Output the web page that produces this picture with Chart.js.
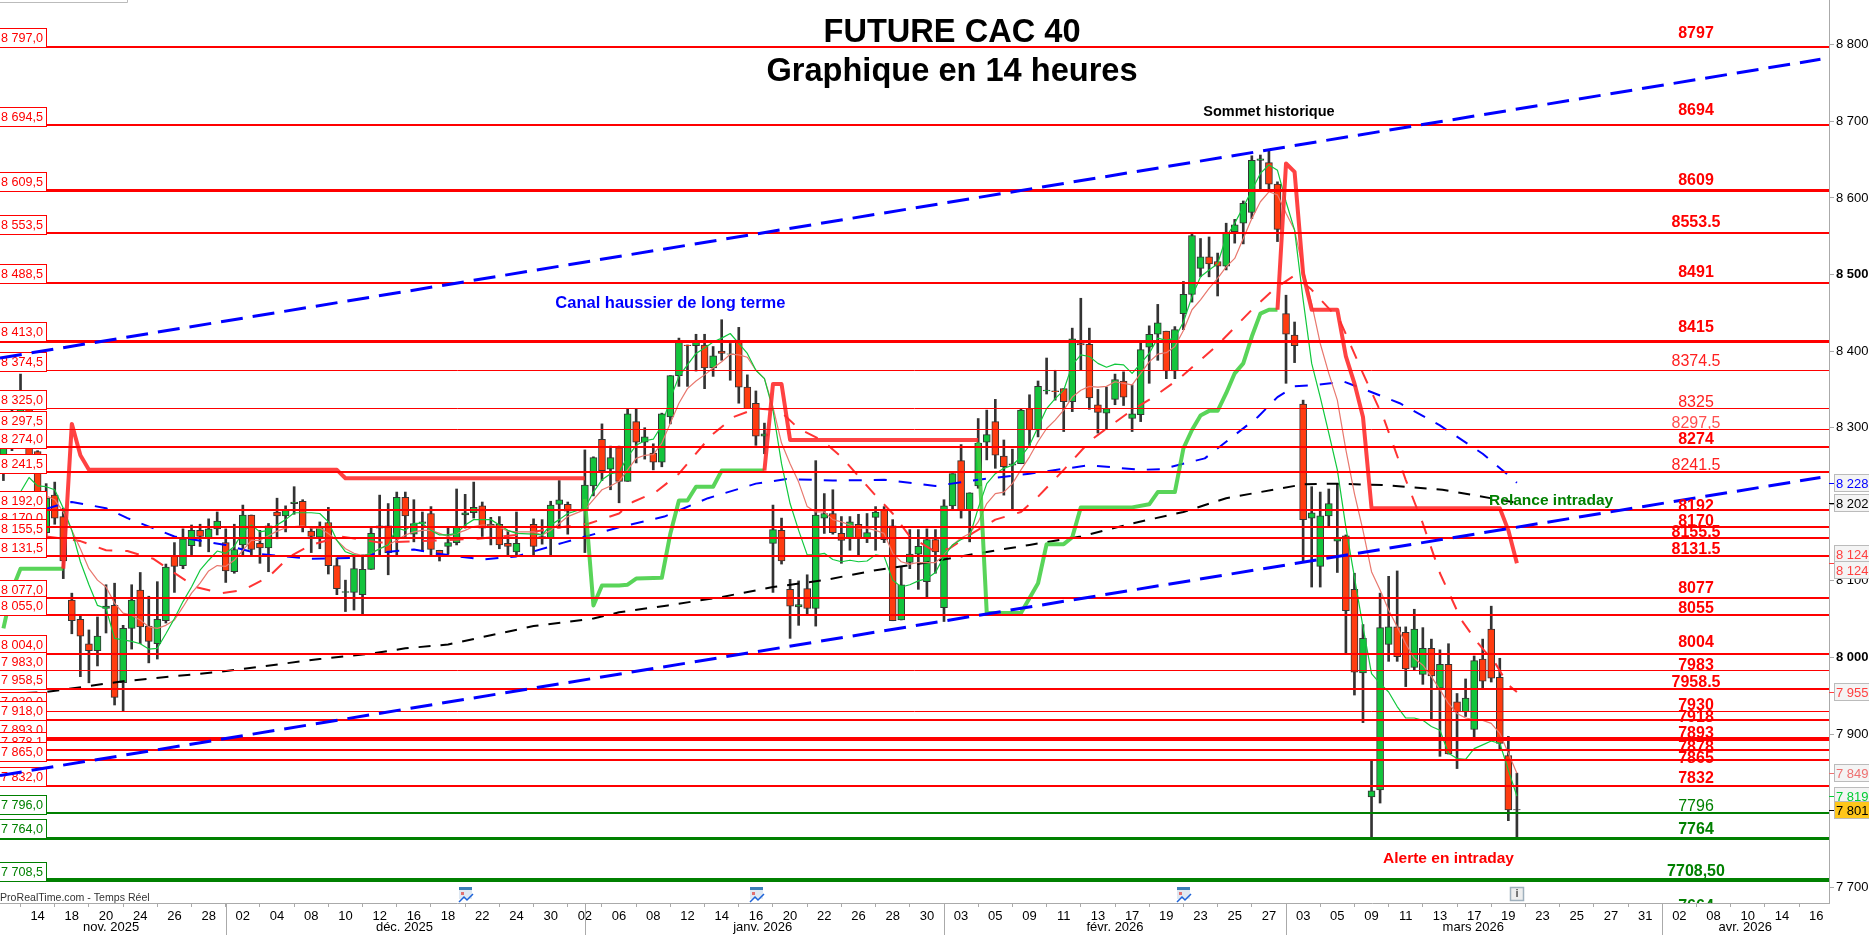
<!DOCTYPE html>
<html>
<head>
<meta charset="utf-8">
<title>FUTURE CAC 40</title>
<script src="https://cdn.jsdelivr.net/npm/chart.js@4"></script>
<style>
  html, body { margin: 0; padding: 0; background: #fff; overflow: hidden; }
  canvas { display: block; }
</style>
</head>
<body>
<canvas id="chart" width="1869" height="935"></canvas>
<script>
// Candles, one per 14h bar (null = no bar)
const opens = [8245,8300,8290,8327,8269,8163,8212,8184,8075,8050,8018,8009,8064,8068,7967,8038,8088,8041,8018,8048,
  8132,8120,8146,8166,8156,8168,8150,8112,8147,8186,8149,8143,8190,8185,8201,8204,8165,8157,8176,8120,
  8085,8085,8082,8115,8169,8172,8155,8209,8161,8175,8188,8140,8145,8150,8186,8189,8198,8171,8174,8149,
  8138,null,8174,8156,8156,8200,8200,null,8193,8224,8285,8246,8274,8230,8308,8281,8267,8255,8314,8368,
  8408,8407,8408,8378,8400,8396,8414,8353,8332,8289,8149,8166,8089,8066,8090,8064,8182,8188,8162,8155,
  8174,8156,8183,8192,8172,8049,8124,8135,8099,8154,8065,8198,8257,8192,8224,8281,8308,8263,8251,8253,
  8325,8297,8348,8348,8351,8334,8410,8409,8330,8319,8337,8361,8312,8317,8405,8422,8426,8374,8449,8474,
  8508,8523,8517,8511,8556,8567,8581,8649,8646,8618,8449,8421,8331,8182,8119,8185,8152,8159,8089,7980,
  7818,7827,8017,8040,8033,7987,7978,8012,7960,7991,7942,7929,7906,7998,8037,7974,7872,7801];
const highs = [8310,8325,8370,8327,8270,8227,8229,8195,8084,8056,8036,8053,8095,8097,8042,8095,8111,8080,8099,8122,
  8150,8168,8173,8174,8181,8190,8168,8174,8199,8186,8166,8175,8208,8198,8223,8206,8169,8177,8196,8130,
  8101,8134,8134,8169,8212,8201,8216,8216,8206,8190,8197,8140,8169,8220,8213,8229,8203,8183,8184,8166,
  8190,null,8181,8180,8204,8231,8203,null,8271,8262,8305,8276,8276,8325,8324,8300,8279,8319,8368,8417,
  8408,8422,8422,8406,8441,8410,8431,8369,8348,8306,8199,8182,8102,8100,8108,8257,8214,8219,8184,8184,
  8187,8188,8197,8197,8180,8119,8167,8167,8168,8167,8206,8240,8278,8215,8312,8323,8337,8284,8272,8324,
  8343,8361,8391,8375,8351,8430,8469,8430,8350,8353,8370,8373,8356,8411,8433,8461,8426,8432,8491,8553,
  8547,8549,8528,8567,8572,8596,8655,8656,8662,8621,8473,8438,8336,8223,8216,8220,8227,8160,8110,8043,
  7867,8084,8106,8113,8040,8063,8039,8024,8010,8018,7953,7972,8002,8024,8067,7999,7897,7849];
const lows = [8231,8270,8275,8245,8190,8155,8174,8103,8031,7975,7967,7989,8032,7938,7930,8011,8018,7993,7998,8045,
  8085,8116,8134,8145,8138,8160,8098,8110,8132,8134,8123,8112,8155,8164,8187,8164,8137,8142,8109,8082,
  8060,8062,8055,8115,8134,8108,8134,8158,8151,8139,8133,8126,8135,8147,8169,8182,8158,8147,8142,8132,
  8132,null,8132,8148,8133,8169,8161,null,8137,8211,8231,8219,8202,8230,8254,8259,8245,8249,8305,8354,
  8354,8374,8351,8367,8388,8362,8332,8325,8277,8266,8085,8122,8025,8042,8055,8041,8162,8161,8123,8140,
  8132,8150,8140,8150,8048,8049,8116,8089,8077,8110,8047,8192,8182,8151,8221,8258,8247,8212,8192,8253,
  8277,8288,8344,8336,8295,8321,8375,8324,8293,8298,8330,8329,8295,8308,8358,8388,8364,8364,8428,8464,
  8497,8497,8472,8506,8541,8540,8573,8610,8610,8543,8358,8385,8125,8092,8092,8171,8111,8005,7951,7915,
  7764,7810,7995,7995,7962,7984,7965,7918,7871,7874,7855,7923,7896,7959,7968,7879,7787,7764];
const closes = [8290,8285,8327,8262,8200,8208,8182,8126,8048,8028,8009,8028,8067,7948,8038,8075,8040,8021,8050,8118,
  8119,8155,8166,8158,8168,8178,8113,8141,8186,8141,8143,8172,8185,8193,8203,8170,8158,8171,8120,8090,
  8086,8116,8115,8162,8172,8137,8209,8185,8175,8177,8141,8134,8150,8171,8189,8196,8169,8174,8147,8145,
  8149,null,8145,8158,8199,8206,8191,null,8225,8261,8244,8261,8230,8318,8281,8288,8255,8318,8368,8412,
  8407,8412,8378,8394,8397,8396.5,8353,8325,8289,8292,8167,8126,8067,8069,8064,8186,8188,8163,8153,8177,
  8156,8163,8190,8154,8048,8095,8135,8145,8154,8138,8198,8240,8192,8215,8280,8291,8264,8249,8253,8323,
  8297,8354,8349,8347,8334,8416,8408,8339,8320,8325,8363,8340,8318,8402,8422,8437,8374,8428,8474,8551,
  8523,8514,8511,8554,8565,8593,8649,8651,8618,8559,8422,8407,8180,8189,8185,8201,8156,8061,7981,8025,
  7826,8039,8040,8001,7985,8037,8012,7976,7991,7874,7929,7947,7996,7969,7973,7888,7801,7801.5];

// Indicator lines, as [bar, price]
const maFast = [[2,8216],[3,8235],[4,8224],[5,8223],[6,8219],[7,8195],[8,8166],[9,8125],[10,8095],[11,8068],[12,8064],[13,8025],[14,8023],[15,8021],[16,8018],[17,8011],[18,8012],[19,8031],[20,8051],
  [21,8073],[22,8092],[23,8114],[24,8127],[25,8139],[26,8136],[27,8145],[28,8164],[29,8173],[30,8164],[31,8166],[32,8173],[33,8180],[34,8189],[35,8189],[36,8189],[37,8188],[38,8177],[39,8153],[40,8138],
  [41,8134],[42,8132],[43,8136],[44,8142],[45,8147],[46,8169],[47,8166],[48,8175],[49,8175],[50,8166],[51,8160],[52,8160],[53,8162],[54,8173],[55,8180],[56,8180],[57,8180],[58,8173],[59,8166],[60,8162],
  [62,8161],[63,8160],[64,8173],[65,8180],[66,8188],[68,8195],[69,8216],[70,8232],[71,8240],[72,8242],[73,8262],[74,8277],[75,8283],[76,8285],[77,8303],[78,8338],[79,8367],[80,8382],
  [81,8397],[82,8404],[83,8412],[84,8417],[85,8423],[86,8410],[87,8397],[88,8375],[89,8364],[90,8323],[91,8253],[92,8201],[93,8166],[94,8134],[95,8134],[96,8136],[97,8128],[98,8125],[99,8127],[100,8125],
  [101,8126],[102,8134],[103,8132],[104,8101],[105,8092],[106,8095],[107,8100],[108,8103],[109,8111],[110,8132],[111,8147],[112,8154],[113,8158],[114,8195],[115,8227],[116,8240],[117,8247],[118,8251],[119,8262],[120,8277],
  [121,8301],[122,8325],[123,8338],[124,8349],[125,8382],[126,8395],[127,8393],[128,8384],[129,8379],[130,8383],[131,8382],[132,8371],[133,8384],[134,8397],[135,8417],[136,8414],[137,8417],[138,8438],[139,8471],[140,8497],
  [141,8506],[142,8514],[143,8549],[144,8567],[145,8588],[146,8610],[147,8632],[148,8643],[149,8636],[150,8595],[151,8558],[152,8467],[153,8384],[154,8340],[155,8293],[156,8245],[157,8170],[158,8105],[159,8040],[160,7979],
  [161,7966],[162,7955],[163,7936],[164,7921],[165,7921],[166,7918],[167,7910],[168,7905],[169,7875],[170,7868],[171,7867],[172,7881],[173,7886],[174,7891],[175,7888],[176,7853],[177,7819]];
const maSlow = [[5,8211],[6,8206],[7,8190],[8,8166],[9,8142],[10,8116],[11,8101],[12,8092],[13,8071],[14,8058],[15,8055],[16,8049],[17,8040],[18,8038],[19,8042],[20,8049],
  [21,8066],[22,8084],[23,8097],[24,8113],[25,8120],[26,8119],[27,8127],[28,8140],[29,8153],[30,8153],[31,8159],[32,8165],[33,8169],[34,8171],[35,8172],[36,8169],[37,8169],[38,8162],[39,8153],[40,8142],
  [41,8136],[42,8133],[43,8136],[44,8142],[45,8147],[46,8153],[47,8160],[48,8164],[49,8166],[50,8166],[51,8162],[52,8158],[53,8162],[54,8166],[55,8171],[56,8173],[57,8173],[58,8170],[59,8165],[60,8164],
  [62,8164],[63,8160],[64,8166],[65,8175],[66,8184],[68,8193],[69,8206],[70,8219],[71,8224],[72,8230],[73,8245],[74,8260],[75,8264],[76,8265],[77,8280],[78,8306],[79,8332],[80,8351],
  [81,8361],[82,8369],[83,8378],[84,8386],[85,8396],[86,8395],[87,8392],[88,8375],[89,8364],[90,8327],[91,8280],[92,8253],[93,8229],[94,8197],[95,8190],[96,8190],[97,8180],[98,8177],[99,8173],[100,8169],
  [101,8169],[102,8166],[103,8162],[104,8136],[105,8125],[106,8122],[107,8124],[108,8124],[109,8124],[110,8134],[111,8147],[112,8156],[113,8162],[114,8177],[115,8201],[116,8214],[117,8216],[118,8227],[119,8245],[120,8262],
  [121,8282],[122,8299],[123,8310],[124,8323],[125,8340],[126,8349],[127,8354],[128,8353],[129,8354],[130,8360],[131,8358],[132,8356],[133,8371],[134,8386],[135,8396],[136,8398],[137,8406],[138,8427],[139,8454],[140,8467],
  [141,8482],[142,8495],[143,8510],[144,8521],[145,8547],[146,8573],[147,8595],[148,8608],[149,8604],[150,8580],[151,8558],[152,8506],[153,8462],[154,8410],[155,8371],[156,8336],[157,8271],[158,8214],[159,8166],[160,8112],
  [161,8088],[162,8062],[163,8040],[164,8018],[165,7999],[166,7990],[167,7975],[168,7958],[169,7940],[170,7927],[171,7921],[172,7919],[173,7918],[174,7914],[175,7901],[176,7875],[177,7849]];
const maRedDash = [[5,8158],[9,8152],[12,8140],[14.5,8139],[17.5,8129],[19.5,8114],[22.5,8092],[25.5,8084],[28,8088],[31,8105],[33.5,8132],[36,8147],[39.5,8158],[44,8150],[55.5,8155],[60,8160],[64.5,8169],[68.5,8175],
  [72,8188],[73.6,8203],[76.3,8216],[79,8240],[82.8,8290],[85.4,8314],[88,8325],[90.7,8323],[93,8299],[95.8,8283],[98,8262],[101.8,8214],[104,8188],[106,8158],[108.7,8140],[110.6,8142],[113.3,8162],[116,8180],[119,8190],[121,8210],[124,8245],[127.2,8284],[129.5,8303],[132,8323],[134.5,8340],[137.5,8364],
  [142,8408],[146,8454],[148.5,8480],[151,8499],[153,8480],[156.3,8440],[159,8371],[161.5,8310],[164,8232],[166,8175],[166.8,8149],[168,8110],[170.5,8049],[172.5,8018],[174.5,7992],[176,7964],[177,7955]];
const maBlueDash = [[5,8194],[7,8201],[8,8203],[12,8195],[14.5,8182],[20,8158],[26,8147],[30,8135],[36,8129],[41,8130],[44,8137],[48,8141],[50.5,8136],[56,8128],[60,8132],[65.5,8150],[72,8170],[77.3,8184],[82.4,8208],[88,8227],[91.6,8233],
  [97,8231],[103,8232],[109,8224],[114.7,8233],[120,8240],[127,8251],[133,8245],[135.5,8246],[140.5,8260],[146.7,8314],[149,8340],[151,8354],[153.6,8356],[156.8,8360],[159.4,8349],[163.3,8332],[168,8303],[173,8266],[176,8238],[177,8228]];
const maBlackDash = [[0,7952],[5,7955],[14,7969],[25,7981],[37,7998],[43,8005],[47,8012],[52,8017],[57,8029],[62,8041],[69,8051],[72,8059],[77.7,8068],[84,8079],[90,8092],[96,8101],[102,8114],[108,8124],[114,8136],[120,8147],
  [126,8158],[132,8175],[138,8190],[143,8208],[152,8226],[156,8227],[161.6,8225],[168.3,8219],[177,8202]];
const stopGreen1 = [[0,8038],[1,8088],[2,8116],[7,8116]];
const stopRed1 = [[7,8116],[8,8305],[9,8264],[10,8245],[39,8245],[40,8234],[68,8234]];
const stopGreen2 = [[68,8207],[69,8068],[70,8094],[72,8094],[73,8095],[74,8103],[77,8104],[78,8162],[79,8205],[80,8205],[81,8223],[83,8223],[84,8244],[89,8244]];
const stopRed2 = [[89,8244],[90,8357],[91,8357],[92,8284],[114,8284]];
const stopGreen3 = [[114,8281],[115,8058],[119,8058],[121,8097],[122,8148],[124,8148],[125,8157],[126,8196],[132,8196],[134,8200],[135,8216],[137,8216],[138,8273],[139,8297],[140,8316],[141,8322],[142,8322],[143,8345],[144,8371],[145,8384],[146,8419],[147,8449],[148,8454],[149,8454]];
const stopRed3 = [[149,8454],[150,8645],[151,8634],[152,8501],[153,8454],[156,8454],[157,8393],[158,8358],[159,8314],[160,8195],[175,8195],[176,8166],[177,8123]];

// Trend channel
const channelTop = [[-0.4,8391],[212.5,8781]];
const channelBottom = [[-0.4,7846],[212.5,8235]];

// Horizontal levels
const levelValues = [8797,8694.5,8609.5,8553.5,8488.5,8413,8374.5,8325,8297.5,8274,8241.5,8192,8170,8155.5,8131.5,8077,8055,8004,7983,7958.5,7930,7918,7893,7878,7865,7832,7796,7764,7708.5];
const levelBoxTexts = ['8 797,0','8 694,5','8 609,5','8 553,5','8 488,5','8 413,0','8 374,5','8 325,0','8 297,5','8 274,0','8 241,5','8 192,0','8 170,0','8 155,5','8 131,5','8 077,0','8 055,0','8 004,0','7 983,0','7 958,5','7 930,0','7 918,0','7 893,0','7 878,1','7 865,0','7 832,0','7 796,0','7 764,0','7 708,5'];
const levelWidths = [2,2,3,2,2,3,1,1,1,2,2,2,2,2,2,2,2,2,1,2,1,2,4,2,2,2,2,3,4];

// Level captions on the right, [text, price, weight, colour]
const levelCaptions = [
  ['8797',8816.6,'bold','#ff0000'],['8694',8716,'bold','#ff0000'],['8609',8624.7,'bold','#ff0000'],['8553.5',8569.8,'bold','#ff0000'],
  ['8491',8504.6,'bold','#ff0000'],['8415',8432.8,'bold','#ff0000'],['8374.5',8388.4,'normal','#ff2020'],['8325',8334.9,'normal','#ff2020'],
  ['8297,5',8307.5,'normal','#ff5050'],['8274',8286.6,'bold','#ff0000'],['8241.5',8252.7,'normal','#ff2020'],['8192',8199.8,'bold','#ff0000'],
  ['8170',8179.6,'bold','#ff0000'],['8155.5',8165.2,'bold','#ff0000'],['8131.5',8143,'bold','#ff0000'],['8077',8092,'bold','#ff0000'],
  ['8055',8066,'bold','#ff0000'],['8004',8021.6,'bold','#ff0000'],['7983',7991.6,'bold','#ff0000'],['7958.5',7969.4,'bold','#ff0000'],
  ['7930',7939.4,'bold','#ff0000'],['7918',7923.7,'bold','#ff0000'],['7893',7902.8,'bold','#ff0000'],['7878',7884.5,'bold','#ff0000'],
  ['7865',7870,'bold','#ff0000'],['7832',7844,'bold','#ff0000'],['7796',7807.5,'normal','#008000'],['7764',7777.5,'bold','#008000'],
  ['7708,50',7722.6,'bold','#008000'],['7664',7676.9,'bold','#008000']
];
// Free text on the chart, [text, bar, price, size, colour]
const notes = [
  ['Sommet historique',148,8712,14.5,'#000000'],
  ['Canal haussier de long terme',78,8462,16.5,'#0000ff'],
  ['Relance intraday',181,8205,15.5,'#008000'],
  ['Alerte en intraday',169,7737,15.5,'#ff0000']
];

// Price tags right of the axis, [text, price of the tag, price of the tick, colour, background]
const priceTags = [
  ['8 228',8228,8228,'#0000ff','#f4f4f4'],['8 202',8202,8202,'#000000','#f4f4f4'],
  ['8 124',8134.5,8124,'#ff4040','#f4f4f4'],['8 124',8114,8124,'#ff4040','#f4f4f4'],
  ['7 955',7955,7955,'#ff4040','#f4f4f4'],['7 849',7849,7849,'#ee7070','#f4f4f4'],
  ['7 819',7819,7819,'#00cc33','#f4f4f4'],['7 801',7801,7801,'#000000','#ffc61a']
];

const yTicks = [7700,7800,7900,8000,8100,8200,8300,8400,8500,8600,8700,8800];
const xTickBars = [];
for (let b = 4; b <= 212; b += 4) xTickBars.push(b);
const xTickLabels = ['14','18','20','24','26','28','02','04','08','10','12','16','18','22','24','30','02','06','08','12','14','16','20','22','26','28','30',
  '03','05','09','11','13','17','19','23','25','27','03','05','09','11','13','17','19','23','25','27','31','02','08','10','14','16'];
const monthLabels = ['nov. 2025','déc. 2025','janv. 2026','févr. 2026','mars 2026','avr. 2026'];
const monthCenters = [12.6,46.9,88.8,130,171.9,203.7];
const monthSeparators = [26,68,110,150,194];

const FONT = '"Liberation Sans", Arial, sans-serif';
const UP = '#12c43c';
const DOWN = '#ff3c10';
const pts = arr => arr.map(p => ({ x: p[0], y: p[1] }));

function lineSet(arr, color, width, order, dash) {
  return {
    type: 'line', data: pts(arr), borderColor: color, borderWidth: width, order: order,
    borderDash: dash || [], pointRadius: 0, tension: 0, fill: false,
    borderJoinStyle: 'round', borderCapStyle: 'butt'
  };
}

const bars = [];
opens.forEach((o, i) => { if (o !== null) bars.push(i); });

const datasets = [
  {
    type: 'bar', label: 'wicks', data: bars.map(i => ({ x: i, y: [lows[i], highs[i]] })),
    backgroundColor: '#333333', barThickness: 2, grouped: false, order: 100
  },
  {
    type: 'bar', label: 'bodies', data: bars.map(i => ({ x: i, y: [opens[i], closes[i]] })),
    backgroundColor: bars.map(i => i === 177 ? '#333333' : (closes[i] >= opens[i] ? UP : DOWN)),
    borderColor: '#333333', borderWidth: 1, borderSkipped: false, barThickness: 7, grouped: false, order: 99
  },
  lineSet(maBlackDash, '#000000', 2, 95, [12, 10]),
  lineSet(maBlueDash, '#0000ff', 2, 94, [13, 12]),
  lineSet(maRedDash, '#ff3333', 2, 93, [14, 13]),
  lineSet(maSlow, '#e8786e', 1.2, 92),
  lineSet(maFast, '#10c83c', 1.2, 91),
  lineSet(stopGreen1, 'rgba(60,205,60,0.85)', 4, 85),
  lineSet(stopGreen2, 'rgba(60,205,60,0.85)', 4, 85),
  lineSet(stopGreen3, 'rgba(60,205,60,0.85)', 4, 85),
  lineSet(stopRed1, 'rgba(255,45,45,0.9)', 4, 84),
  lineSet(stopRed2, 'rgba(255,45,45,0.9)', 4, 84),
  lineSet(stopRed3, 'rgba(255,45,45,0.9)', 4, 84)
];

levelValues.forEach((v, i) => {
  const c = v < 7800 ? '#008000' : '#ff0000';
  const s = lineSet([[-0.4, v], [213.5, v]], c, levelWidths[i], 70);
  s.levelWidth = levelWidths[i];
  s.levelValue = v;
  datasets.push(s);
});

const channelA = lineSet(channelTop, '#0000ff', 3, 60, [22, 10]);
channelA.label = 'channel';
datasets.push(channelA);
datasets.push(lineSet(channelBottom, '#0000ff', 3, 59, [22, 10]));

function drawLevelBoxes(chart) {
  const { ctx, scales } = chart;
  ctx.save();
  ctx.font = '12.6px ' + FONT;
  ctx.textBaseline = 'middle';
  ctx.textAlign = 'left';
  levelValues.forEach((v, i) => {
    const y = Math.round(scales.y.getPixelForValue(v));
    const c = v < 7800 ? '#008000' : '#ff0000';
    ctx.fillStyle = '#ffffff';
    ctx.fillRect(0, y - 19, 47, 19);
    ctx.strokeStyle = c;
    ctx.lineWidth = 1;
    ctx.strokeRect(-1, y - 18.5, 47.5, 19);
    ctx.fillStyle = c;
    ctx.fillText(levelBoxTexts[i], 1, y - 8);
  });
  ctx.restore();
}

function drawCalendar(ctx, x, y) {
  ctx.fillStyle = '#3f7fb8';
  ctx.fillRect(x, y, 13, 3);
  ctx.fillStyle = '#dfe8f2';
  ctx.fillRect(x, y + 3, 13, 9);
  ctx.fillStyle = '#e07070';
  ctx.fillRect(x + 2, y + 5, 3, 3);
  ctx.strokeStyle = '#1c62d8';
  ctx.lineWidth = 1.5;
  ctx.beginPath();
  ctx.moveTo(x, y + 15);
  ctx.lineTo(x + 5, y + 10);
  ctx.lineTo(x + 8, y + 13);
  ctx.lineTo(x + 14, y + 7);
  ctx.stroke();
}

const overlayPlugin = {
  id: 'overlay',
  beforeDatasetDraw(chart, args) {
    const ds = chart.data.datasets[args.index];
    if (ds.label === 'channel') drawLevelBoxes(chart);
    if (ds.levelValue !== undefined) {
      // keep the horizontal levels on whole pixels so they stay sharp
      const y = chart.scales.y.getPixelForValue(ds.levelValue);
      const odd = ds.levelWidth % 2 === 1 ? 0.5 : 0;
      chart.ctx.save();
      chart.ctx.translate(0, Math.floor(y) + odd - y);
    }
  },
  afterDatasetDraw(chart, args) {
    if (chart.data.datasets[args.index].levelValue !== undefined) chart.ctx.restore();
  },
  afterDatasetsDraw(chart) {
    const { ctx, scales, chartArea } = chart;
    const xs = scales.x, ys = scales.y;
    ctx.save();
    ctx.beginPath();
    ctx.rect(0, 0, chartArea.right, chartArea.bottom);
    ctx.clip();

    ctx.textAlign = 'center';
    ctx.textBaseline = 'middle';
    levelCaptions.forEach(c => {
      ctx.font = c[2] + ' 16px ' + FONT;
      ctx.fillStyle = c[3];
      ctx.fillText(c[0], 1696, ys.getPixelForValue(c[1]) + 2);
    });
    notes.forEach(n => {
      ctx.font = 'bold ' + n[3] + 'px ' + FONT;
      ctx.fillStyle = n[4];
      ctx.fillText(n[0], xs.getPixelForValue(n[1]), ys.getPixelForValue(n[2]));
    });

    ctx.fillStyle = '#000000';
    ctx.font = 'bold 32.6px ' + FONT;
    ctx.fillText('FUTURE CAC 40', 952, 33);
    ctx.fillText('Graphique en 14 heures', 952, 72);

    ctx.textAlign = 'left';
    ctx.font = '10.6px ' + FONT;
    ctx.fillStyle = '#333333';
    ctx.fillText('ProRealTime.com - Temps Réel', 0, 898);

    // top left frame left by the platform
    ctx.strokeStyle = '#bbbbbb';
    ctx.lineWidth = 1;
    ctx.beginPath();
    ctx.moveTo(0, 2.5);
    ctx.lineTo(127.5, 2.5);
    ctx.lineTo(127.5, 0);
    ctx.stroke();

    drawCalendar(ctx, 459, 887);
    drawCalendar(ctx, 750, 887);
    drawCalendar(ctx, 1177, 887);

    ctx.fillStyle = '#eeeeee';
    ctx.fillRect(1511, 887, 13, 13);
    ctx.strokeStyle = '#9fb0bd';
    ctx.strokeRect(1510.5, 887.5, 13, 13);
    ctx.fillStyle = '#555555';
    ctx.font = 'bold 11px ' + FONT;
    ctx.textAlign = 'center';
    ctx.fillText('i', 1517, 894);
    ctx.restore();
  },
  afterDraw(chart) {
    const { ctx, scales, chartArea } = chart;
    ctx.save();
    // month row under the dates
    ctx.font = '13px ' + FONT;
    ctx.fillStyle = '#000000';
    ctx.textAlign = 'center';
    ctx.textBaseline = 'middle';
    monthLabels.forEach((m, i) => ctx.fillText(m, scales.x.getPixelForValue(monthCenters[i]), 927));
    ctx.strokeStyle = '#aaaaaa';
    ctx.lineWidth = 1;
    monthSeparators.forEach(b => {
      const x = Math.round(scales.x.getPixelForValue(b)) + 0.5;
      ctx.beginPath();
      ctx.moveTo(x, chartArea.bottom);
      ctx.lineTo(x, 935);
      ctx.stroke();
    });
    // last value tags on the price axis
    ctx.textAlign = 'left';
    priceTags.forEach(t => {
      const y = Math.round(scales.y.getPixelForValue(t[1]));
      const yTick = Math.round(scales.y.getPixelForValue(t[2])) + 0.5;
      ctx.strokeStyle = t[3];
      ctx.beginPath();
      ctx.moveTo(chartArea.right, yTick);
      ctx.lineTo(chartArea.right + 5, yTick);
      ctx.stroke();
      ctx.fillStyle = t[4];
      ctx.fillRect(1834, y - 9, 35, 18);
      ctx.strokeStyle = '#bbbbbb';
      ctx.strokeRect(1834.5, y - 8.5, 35, 17);
      ctx.fillStyle = t[3];
      ctx.fillText(t[0], 1836, y + 1);
    });
    ctx.restore();
  }
};

new Chart(document.getElementById('chart'), {
  type: 'bar',
  data: { datasets },
  plugins: [overlayPlugin],
  options: {
    responsive: false,
    animation: false,
    events: [],
    parsing: { xAxisKey: 'x', yAxisKey: 'y' },
    layout: { padding: 0, autoPadding: false },
    plugins: { legend: { display: false }, tooltip: { enabled: false }, title: { display: false } },
    scales: {
      x: {
        type: 'linear', position: 'bottom', min: -0.4, max: 213.5, offset: false,
        afterBuildTicks: s => { s.ticks = xTickBars.map(v => ({ value: v })); },
        afterFit: s => { s.height = 32; s.paddingLeft = 0; s.paddingRight = 0; },
        grid: { drawOnChartArea: false, color: '#aaaaaa', tickLength: 4 },
        border: { color: '#aaaaaa' },
        ticks: {
          autoSkip: false, maxRotation: 0, minRotation: 0, padding: 2, color: '#000000',
          font: { family: FONT, size: 13 },
          callback: v => xTickLabels[v / 4 - 1]
        }
      },
      y: {
        type: 'linear', position: 'right', min: 7679.5, max: 8858.4,
        afterBuildTicks: s => { s.ticks = yTicks.map(v => ({ value: v })); },
        afterFit: s => { s.width = 40; s.paddingTop = 0; s.paddingBottom = 0; },
        grid: { drawOnChartArea: false, color: '#aaaaaa', tickLength: 5 },
        border: { color: '#aaaaaa' },
        ticks: {
          padding: 2, color: '#000000',
          font: ctx => ({
            family: FONT, size: 13,
            weight: (ctx.tick && (ctx.tick.value === 8000 || ctx.tick.value === 8500)) ? 'bold' : 'normal'
          }),
          callback: v => String(v).replace(/^(\d)(\d{3})$/, '$1 $2')
        }
      }
    }
  }
});
</script>
</body>
</html>
